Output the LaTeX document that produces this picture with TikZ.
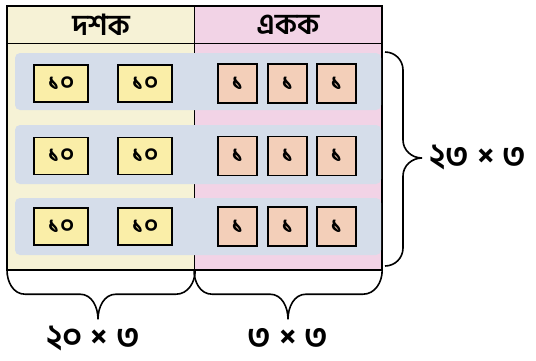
\documentclass[tikz,border=0pt]{standalone}
\usepackage{fontspec}
\newfontfamily\bn[Script=Bengali]{Hind Siliguri}
\usetikzlibrary{positioning}

\definecolor{tenscol}{HTML}{F6F2D6}
\definecolor{onescol}{HTML}{F2D3E6}
\definecolor{bandblue}{HTML}{D5DDEA}
\definecolor{tenfill}{HTML}{FAEEA8}
\definecolor{onefill}{HTML}{F3CFB9}

\begin{document}
\begin{tikzpicture}[
  x=1pt, y=-1pt,
  every node/.style={font=\bn},
  tablecell/.style={
    rectangle,
    draw=black,
    line width=1.2pt,
    inner sep=0pt,
    anchor=north west,
    minimum width=187pt
  },
  headtext/.style={font=\bn\bfseries\fontsize{29}{29}\selectfont},
  tenbox/.style={
    rectangle,
    draw=black,
    line width=1.8pt,
    fill=tenfill,
    inner sep=0pt,
    minimum width=54pt,
    minimum height=37pt,
    font=\bn\bfseries\fontsize{24}{24}\selectfont
  },
  onebox/.style={
    rectangle,
    draw=black,
    line width=1.8pt,
    fill=onefill,
    inner sep=0pt,
    minimum width=39pt,
    minimum height=39pt,
    font=\bn\bfseries\fontsize{24}{24}\selectfont
  },
  band/.style={fill=bandblue, rounded corners=5pt},
  curly/.style={draw=black, line width=1.6pt},
  product/.style={font=\bn\bfseries\fontsize{34}{34}\selectfont, inner sep=0pt}
]
\useasboundingbox (0,0) rectangle (536,360);

% columns of the place-value table
\node[tablecell, fill=tenscol, minimum height=37pt, headtext] (doshhead) at (7,6) {দশক};
\node[tablecell, fill=onescol, minimum height=37pt, headtext] (ekokhead) at (194,6) {একক};
\node[tablecell, fill=tenscol, minimum height=226pt] (doshcol) at (7,43) {};
\node[tablecell, fill=onescol, minimum height=226pt] (ekokcol) at (194,43) {};

% rows
\fill[band] (15,53) rectangle (381,110);
\fill[band] (15,125) rectangle (381,184);
\fill[band] (15,198) rectangle (381,255);
\draw[line width=1.2pt] (doshhead.north west) rectangle (ekokcol.south east);

% tens
\node[tenbox] (t1a) at (61,83.5) {১০};
\node[tenbox] (t1b) at (145,83.5) {১০};
\node[tenbox] (t2a) at (61,156) {১০};
\node[tenbox] (t2b) at (145,156) {১০};
\node[tenbox] (t3a) at (61,226.5) {১০};
\node[tenbox] (t3b) at (145,226.5) {১০};

% ones
\node[onebox] (u1a) at (237.5,83.5) {১};
\node[onebox] (u1b) at (287.5,83.5) {১};
\node[onebox] (u1c) at (336.5,83.5) {১};
\node[onebox] (u2a) at (237.5,156) {১};
\node[onebox] (u2b) at (287.5,156) {১};
\node[onebox] (u2c) at (336.5,156) {১};
\node[onebox] (u3a) at (237.5,226.5) {১};
\node[onebox] (u3b) at (287.5,226.5) {১};
\node[onebox] (u3c) at (336.5,226.5) {১};

% braces
\coordinate (rtop) at (385,52);
\draw[curly] (rtop) to[out=0,in=90] ++(18,18) -- ++(0,70)
  to[out=-90,in=180] ++(19,18) coordinate (rtip)
  to[out=180,in=90] ++(-19,18) -- ++(0,72) to[out=-90,in=0] ++(-18,18);
\draw[curly] (doshcol.south west) to[out=-90,in=180] ++(18,24) -- ++(55,0)
  to[out=0,in=90] ++(18,25) coordinate (doshtip)
  to[out=90,in=180] ++(18,-25) -- ++(60,0) to[out=0,in=-90] (doshcol.south east);
\draw[curly] (ekokcol.south west) to[out=-90,in=180] ++(18,24) -- ++(58,0)
  to[out=0,in=90] ++(18,25) coordinate (ekoktip)
  to[out=90,in=180] ++(18,-25) -- ++(57,0) to[out=0,in=-90] (ekokcol.south east);

\node[product, anchor=west] (total) at ([xshift=7pt]rtip) {২৩ × ৩};
\node[product] (doshprod) at ([xshift=-5pt,yshift=-19pt]doshtip) {২০ × ৩};
\node[product] (ekokprod) at ([yshift=-19pt]ekoktip) {৩ × ৩};
\end{tikzpicture}
\end{document}
